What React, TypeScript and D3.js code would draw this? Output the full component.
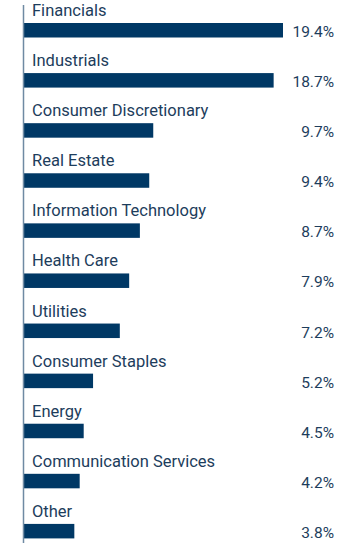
import { useEffect, useRef } from "react";
import * as d3 from "d3";

// Sector weights
const SECTORS = [
  "Financials",
  "Industrials",
  "Consumer Discretionary",
  "Real Estate",
  "Information Technology",
  "Health Care",
  "Utilities",
  "Consumer Staples",
  "Energy",
  "Communication Services",
  "Other",
];
const WEIGHTS = [19.4, 18.7, 9.7, 9.4, 8.7, 7.9, 7.2, 5.2, 4.5, 4.2, 3.8];

const W = 360;
const H = 547;
const AXIS_X = 23.5;
const BAR_COLOR = "#003865";
const TEXT_COLOR = "#1d3d5c";
const AXIS_COLOR = "#6f8aa3";
const FONT = "Roboto, 'Noto Sans', sans-serif";

export default function App() {
  const svgRef = useRef<SVGSVGElement>(null);

  useEffect(() => {
    if (!svgRef.current) return;
    const svg = d3.select(svgRef.current);
    svg.selectAll("*").remove();

    const y = d3.scaleBand<string>().domain(SECTORS).range([0, 551]).paddingInner(0);
    const x = d3.scaleLinear().domain([0, 19.4]).range([AXIS_X, 283]);

    const rows = SECTORS.map((s, i) => ({ label: s, value: WEIGHTS[i] }));

    const g = svg.append("g");

    rows.forEach((r) => {
      const top = y(r.label) ?? 0;

      // sector name above its bar
      g.append("text")
        .attr("x", 32)
        .attr("y", top + 16)
        .attr("font-size", 16.5)
        .attr("font-family", FONT)
        .attr("fill", TEXT_COLOR)
        .text(r.label);

      g.append("rect")
        .attr("x", x(0))
        .attr("y", top + 23)
        .attr("width", x(r.value) - x(0))
        .attr("height", 14.5)
        .attr("fill", BAR_COLOR);

      // value label, right-aligned, baseline on bar bottom
      g.append("text")
        .attr("x", 334)
        .attr("y", top + 37)
        .attr("text-anchor", "end")
        .attr("font-size", 15.5)
        .attr("font-family", FONT)
        .attr("fill", TEXT_COLOR)
        .text(`${r.value.toFixed(1)}%`);
    });

    // left axis line
    g.append("line")
      .attr("x1", AXIS_X).attr("x2", AXIS_X)
      .attr("y1", 5).attr("y2", 543)
      .attr("stroke", AXIS_COLOR)
      .attr("stroke-width", 1.5);
  }, []);

  return (
    <div style={{ position: "absolute", left: 0, top: 0 }}>
      <svg ref={svgRef} width={W} height={H} style={{ display: "block" }} />
    </div>
  );
}
